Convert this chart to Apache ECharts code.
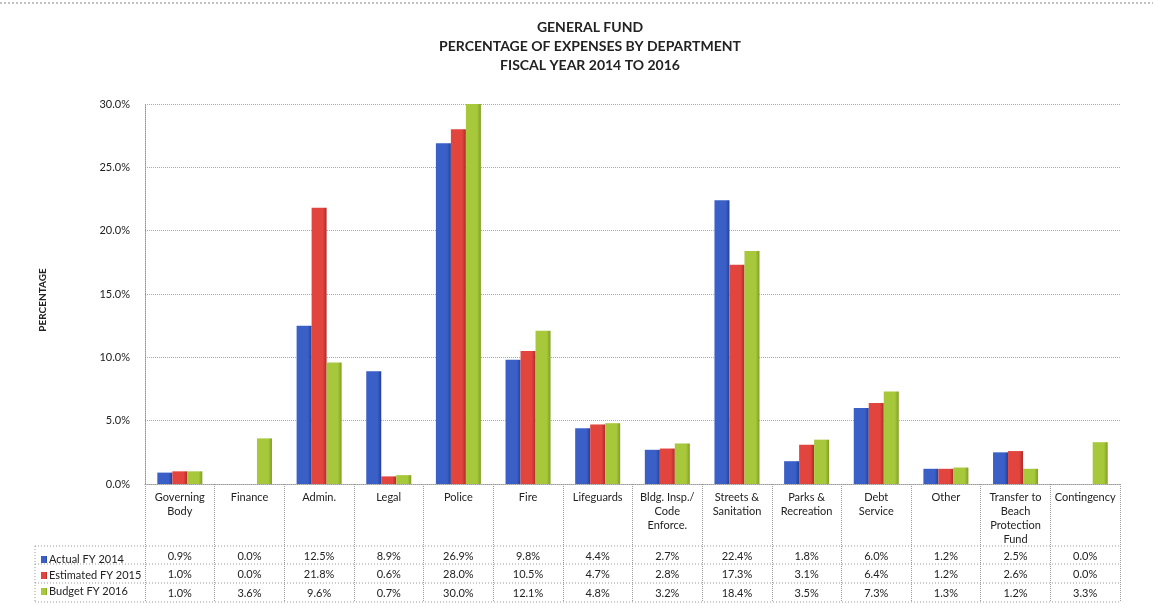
<!DOCTYPE html>
<html>
<head>
<meta charset="utf-8">
<script src="https://cdn.jsdelivr.net/npm/echarts@6/dist/echarts.min.js"></script>
<style>html,body{margin:0;padding:0;background:#fff}#c{width:1153px;height:607px}</style>
</head>
<body>
<div id="c"></div>
<script>
var categories = ['Governing\nBody','Finance','Admin.','Legal','Police','Fire','Lifeguards','Bldg. Insp./\nCode\nEnforce.','Streets &\nSanitation','Parks &\nRecreation','Debt\nService','Other','Transfer to\nBeach\nProtection\nFund','Contingency'];
var actual2014 = [0.9,0.0,12.5,8.9,26.9,9.8,4.4,2.7,22.4,1.8,6.0,1.2,2.5,0.0];
var estimated2015 = [1.0,0.0,21.8,0.6,28.0,10.5,4.7,2.8,17.3,3.1,6.4,1.2,2.6,0.0];
var budget2016 = [1.0,3.6,9.6,0.7,30.0,12.1,4.8,3.2,18.4,3.5,7.3,1.3,1.2,3.3];
var seriesNames = ['Actual FY 2014','Estimated FY 2015','Budget FY 2016'];
var yTicks = [0,5,10,15,20,25,30];

var FONT = 'Lato, "Open Sans", sans-serif';
var colors = ['#3a5fc6','#e2443e','#a6c83a'];
var dark = ['#22409a','#b02a26','#7f9e22'];
function grad(i){return new echarts.graphic.LinearGradient(0,0,1,0,[{offset:0,color:colors[i]},{offset:0.75,color:colors[i]},{offset:1,color:dark[i]}]);}
var rows = [actual2014, estimated2015, budget2016];
var chart = echarts.init(document.getElementById('c'));
var xAxes = [{
  type:'category', data:categories, gridIndex:0, position:'bottom',
  axisLine:{show:true,lineStyle:{color:'#9a9a9a',type:'dotted'}},
  axisTick:{show:true,length:118,lineStyle:{color:'#9a9a9a',type:'dotted'}},
  axisLabel:{interval:0,fontFamily:FONT,fontSize:11,color:'#222',lineHeight:14,margin:6}
}];
var offsets=[67,85,104];
rows.forEach(function(r,k){
  xAxes.push({type:'category',data:categories,gridIndex:0,position:'bottom',offset:offsets[k],
    axisLine:{show:false},axisTick:{show:false},
    axisLabel:{interval:0,fontFamily:FONT,fontSize:11,color:'#222',margin:0,
      formatter:function(v,i){return r[i].toFixed(1)+'%';}}});
});
var lineYs=[546,564,583,602];
var graphics=[{type:'line',shape:{x1:0,y1:3,x2:1153,y2:3},style:{stroke:'#888',lineWidth:1,lineDash:[2,2]}},
  {type:'line',shape:{x1:35,y1:546,x2:35,y2:602},style:{stroke:'#999',lineWidth:1,lineDash:[1,2]}}];
lineYs.forEach(function(y){graphics.push({type:'line',shape:{x1:35,y1:y,x2:1120,y2:y},style:{stroke:'#999',lineWidth:1,lineDash:[1,2]}});});

chart.setOption({
  animation:false,
  backgroundColor:'#fff',
  title:{text:'GENERAL FUND\nPERCENTAGE OF EXPENSES BY DEPARTMENT\nFISCAL YEAR 2014 TO 2016',left:585,top:13,textAlign:'center',
    textStyle:{fontFamily:FONT,fontSize:14,fontWeight:'bold',color:'#222',lineHeight:19}},
  legend:{orient:'vertical',left:36,top:549,itemWidth:6,itemHeight:7,itemGap:5,icon:'rect',
    textStyle:{fontFamily:FONT,fontSize:11,color:'#222',padding:[0,0,0,-3]},data:seriesNames},
  grid:{left:145,right:33,top:104,bottom:123,containLabel:false},
  xAxis:xAxes,
  yAxis:{type:'value',min:0,max:30,interval:5,
    name:'PERCENTAGE',nameLocation:'middle',nameGap:97,nameRotate:90,
    nameTextStyle:{fontFamily:FONT,fontSize:10,fontWeight:'bold',color:'#222',padding:[0,0,0,-12]},
    axisLine:{show:true,lineStyle:{color:'#7c93d8',type:'dotted'}},
    axisTick:{show:false},
    axisLabel:{fontFamily:FONT,fontSize:11,color:'#222',margin:15,formatter:function(v){return v.toFixed(1)+'%';}},
    splitLine:{show:true,lineStyle:{color:'#aaa',type:'dotted'}}},
  graphic:graphics,
  series:rows.map(function(r,i){return {name:seriesNames[i],type:'bar',data:r,xAxisIndex:0,
    barWidth:15,barGap:'0%',itemStyle:{color:grad(i)}};})
});
</script>
</body>
</html>
